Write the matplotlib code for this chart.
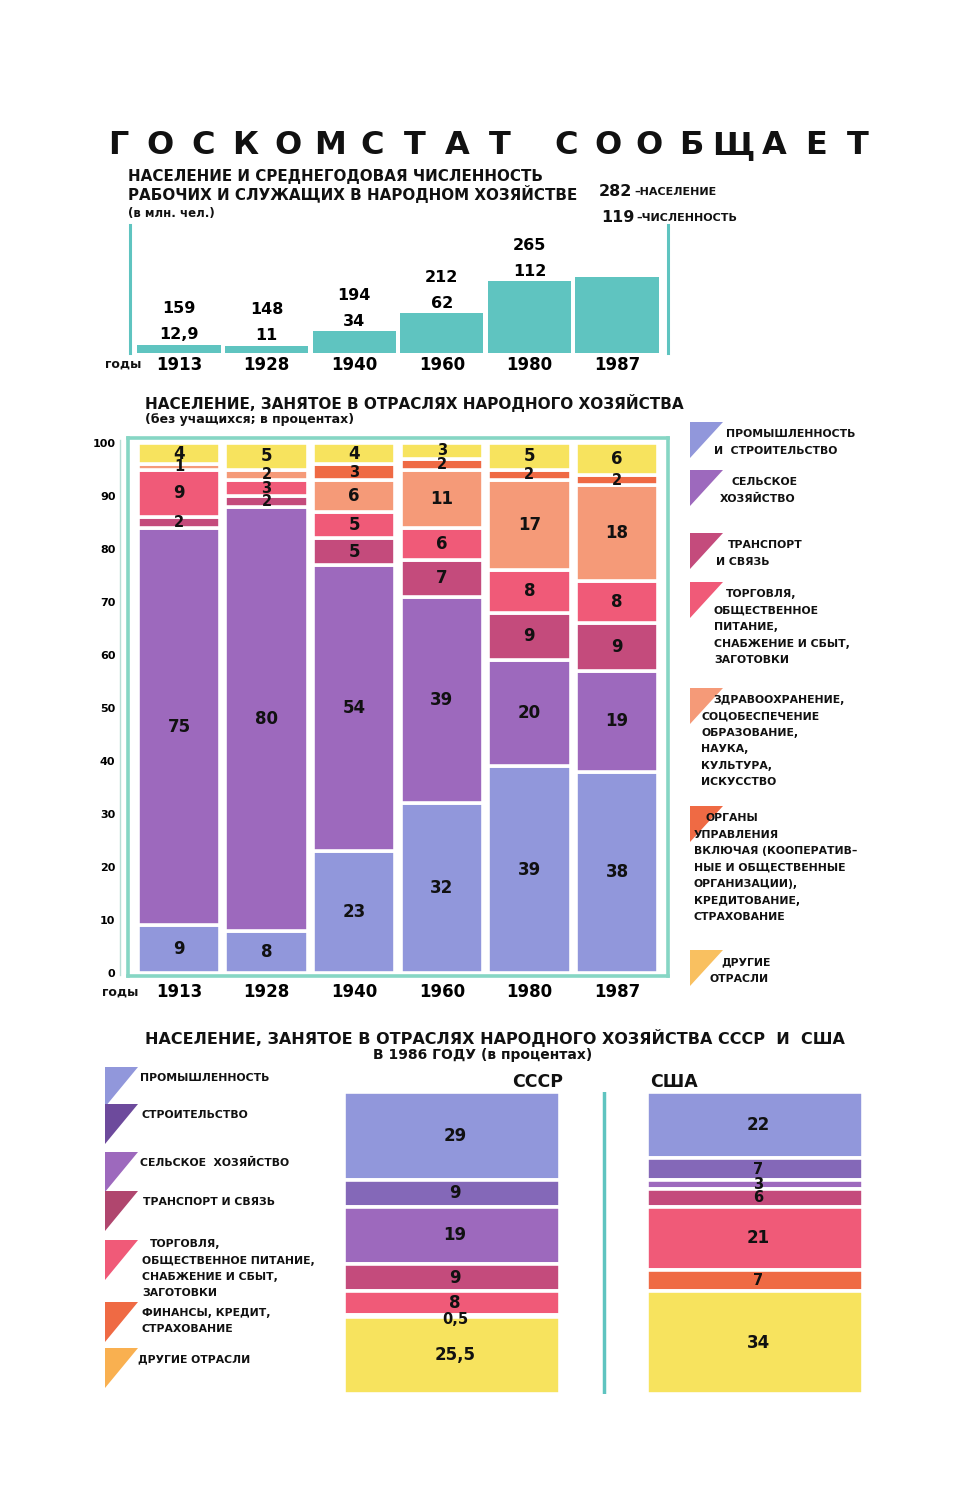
import matplotlib
matplotlib.use("Agg")
import matplotlib.pyplot as plt
from matplotlib.patches import Polygon

plt.rcParams['font.family'] = ['DejaVu Sans']
plt.rcParams['font.weight'] = 'bold'

# ---------------- data ----------------
years = ['1913', '1928', '1940', '1960', '1980', '1987']
population = [159, 148, 194, 212, 265, 282]
employed = [12.9, 11, 34, 62, 112, 119]

sector_names = [
    'ПРОМЫШЛЕННОСТЬ\nИ  СТРОИТЕЛЬСТВО',
    'СЕЛЬСКОЕ\nХОЗЯЙСТВО',
    'ТРАНСПОРТ\nИ СВЯЗЬ',
    'ТОРГОВЛЯ,\nОБЩЕСТВЕННОЕ\nПИТАНИЕ,\nСНАБЖЕНИЕ И СБЫТ,\nЗАГОТОВКИ',
    'ЗДРАВООХРАНЕНИЕ,\nСОЦОБЕСПЕЧЕНИЕ\nОБРАЗОВАНИЕ,\nНАУКА,\nКУЛЬТУРА,\nИСКУССТВО',
    'ОРГАНЫ\nУПРАВЛЕНИЯ\nВКЛЮЧАЯ (КООПЕРАТИВ–\nНЫЕ И ОБЩЕСТВЕННЫЕ\nОРГАНИЗАЦИИ),\nКРЕДИТОВАНИЕ,\nСТРАХОВАНИЕ',
    'ДРУГИЕ\nОТРАСЛИ',
]
industry_pct = [9, 8, 23, 32, 39, 38]
agriculture_pct = [75, 80, 54, 39, 20, 19]
transport_pct = [2, 2, 5, 7, 9, 9]
trade_pct = [9, 3, 5, 6, 8, 8]
health_pct = [1, 2, 6, 11, 17, 18]
government_pct = [0, 0, 3, 2, 2, 2]
other_pct = [4, 5, 4, 3, 5, 6]

countries = ['СССР', 'США']
branch_names = [
    'ПРОМЫШЛЕННОСТЬ',
    'СТРОИТЕЛЬСТВО',
    'СЕЛЬСКОЕ  ХОЗЯЙСТВО',
    'ТРАНСПОРТ И СВЯЗЬ',
    'ТОРГОВЛЯ,\nОБЩЕСТВЕННОЕ ПИТАНИЕ,\nСНАБЖЕНИЕ И СБЫТ,\nЗАГОТОВКИ',
    'ФИНАНСЫ, КРЕДИТ,\nСТРАХОВАНИЕ',
    'ДРУГИЕ ОТРАСЛИ',
]
ussr_1986 = [29, 9, 19, 9, 8, 0.5, 25.5]
usa_1986 = [22, 7, 3, 6, 21, 7, 34]

# ---------------- styles ----------------
C_IND = '#9197db'
C_CON = '#8468b8'
C_AGR = '#9d69bd'
C_TRA = '#c44b7c'
C_TRD = '#f05a78'
C_HEA = '#f59a78'
C_GOV = '#ef6a44'
C_OTH = '#f7e35e'
TEAL = '#5fc4c0'
FRAME = '#86d6c4'

mid_colors = [C_IND, C_AGR, C_TRA, C_TRD, C_HEA, C_GOV, C_OTH]
mid_legend_colors = [C_IND, C_AGR, C_TRA, C_TRD, C_HEA, C_GOV, '#f9c060']
bot_colors = [C_IND, C_CON, C_AGR, C_TRA, C_TRD, C_GOV, C_OTH]
bot_legend_colors = [C_IND, '#6d4a9c', C_AGR, '#b0466e', C_TRD, C_GOV, '#f9b050']

W, H = 960, 1500
fig = plt.figure(figsize=(W / 100, H / 100), dpi=100)
fig.patch.set_facecolor('white')


def px_axes(x0, y0, x1, y1):
    return fig.add_axes([x0 / W, 1 - y1 / H, (x1 - x0) / W, (y1 - y0) / H])


def ftext(x, y, s, size, ha='left', va='center', **kw):
    return fig.text(x / W, 1 - y / H, s, fontsize=size, ha=ha, va=va,
                    fontweight='bold', color='#111111', **kw)


def triangle(x, y, w, h, color):
    pts = [(x / W, 1 - y / H), ((x + w) / W, 1 - y / H), (x / W, 1 - (y + h) / H)]
    fig.patches.append(Polygon(pts, closed=True, transform=fig.transFigure,
                               facecolor=color, edgecolor='none'))


def fmt(v):
    return (('%g' % v).replace('.', ','))


# ---------------- main title ----------------
word1 = 'ГОСКОМСТАТ'
word2 = 'СООБЩАЕТ'
for i, ch in enumerate(word1):
    ftext(118 + i * 42.4, 146, ch, 23, ha='center')
for i, ch in enumerate(word2):
    ftext(566 + i * 41.7, 146, ch, 23, ha='center')

# ---------------- top chart ----------------
ftext(128, 176, 'НАСЕЛЕНИЕ И СРЕДНЕГОДОВАЯ ЧИСЛЕННОСТЬ', 10.9)
ftext(128, 194, 'РАБОЧИХ И СЛУЖАЩИХ В НАРОДНОМ ХОЗЯЙСТВЕ', 10.9)
ftext(128, 213, '(в млн. чел.)', 8.5)

step = 87.6
ax1 = px_axes(130, 225, 668, 353)
x = list(range(len(years)))
ax1.bar(x, employed, width=0.95, color=TEAL, edgecolor='none')
ax1.set_xlim(-(179 - 130) / step, -(179 - 130) / step + 538 / step)
ax1.set_ylim(0, 128 / 0.64)
for s in ['top', 'bottom']:
    ax1.spines[s].set_visible(False)
for s in ['left', 'right']:
    ax1.spines[s].set_color(TEAL)
    ax1.spines[s].set_linewidth(2.2)
ax1.set_yticks([])
ax1.set_xticks(x)
ax1.set_xticklabels(years, fontsize=12, fontweight='bold')
ax1.tick_params(axis='x', length=0, pad=2)
ax1.patch.set_alpha(0)
for i in range(len(years) - 1):
    ax1.annotate(fmt(employed[i]), (i, employed[i]), xytext=(0, 10),
                 textcoords='offset pixels', ha='center', va='center',
                 fontsize=11.5, fontweight='bold')
    ax1.annotate(fmt(population[i]), (i, employed[i]), xytext=(0, 36),
                 textcoords='offset pixels', ha='center', va='center',
                 fontsize=11.5, fontweight='bold')
# key for the last year (upper right, as in the original)
ftext(599, 192, fmt(population[-1]), 11.5)
ftext(634, 192, '–НАСЕЛЕНИЕ', 8)
ftext(601, 218, fmt(employed[-1]), 11.5)
ftext(636, 218, '–ЧИСЛЕННОСТЬ', 8)
ftext(105, 364, 'годы', 9)

# ---------------- middle chart ----------------
ftext(145, 403, 'НАСЕЛЕНИЕ, ЗАНЯТОЕ В ОТРАСЛЯХ НАРОДНОГО ХОЗЯЙСТВА', 11)
ftext(145, 419, '(без учащихся; в процентах)', 9)

series = [industry_pct, agriculture_pct, transport_pct, trade_pct,
          health_pct, government_pct, other_pct]
ax2 = px_axes(128, 437.7, 668, 976.2)
bottoms = [0.0] * len(years)
for vals, col in zip(series, mid_colors):
    for j, v in enumerate(vals):
        if v <= 0:
            continue
        ax2.bar(j, v, bottom=bottoms[j], width=0.94, color=col,
                edgecolor='white', linewidth=2.6)
        ax2.text(j, bottoms[j] + v / 2, fmt(v), ha='center', va='center',
                 fontsize=12 if v >= 4 else 10.5, fontweight='bold',
                 color='#111111')
        bottoms[j] += v
ax2.set_xlim(-(179 - 128) / step, -(179 - 128) / step + 540 / step)
ax2.set_ylim(-0.6, 101)
for s in ax2.spines.values():
    s.set_color(FRAME)
    s.set_linewidth(2.6)
ax2.set_yticks(range(0, 101, 10))
ax2.set_yticklabels([str(v) for v in range(0, 101, 10)], fontsize=8,
                    fontweight='bold')
ax2.tick_params(axis='y', length=0, pad=9)
ax2.set_xticks(range(len(years)))
ax2.set_xticklabels(years, fontsize=12, fontweight='bold')
ax2.tick_params(axis='x', length=0, pad=5)
ftext(102, 992, 'годы', 9)
fig.add_artist(plt.Line2D([120 / W, 120 / W], [1 - 440 / H, 1 - 975 / H],
                          transform=fig.transFigure, color='#b9ddd6', lw=1))

# middle legend
mid_leg_tops = [422, 470, 533, 582, 688, 806, 950]
mid_leg_text_x = [714, 720, 716, 714, 701, 694, 709]
for name, col, ty, tx in zip(sector_names, mid_legend_colors, mid_leg_tops,
                             mid_leg_text_x):
    triangle(690, ty, 33, 36, col)
    lines = name.split('\n')
    for k, ln in enumerate(lines):
        xx = tx + (12 if k == 0 else 0)
        ftext(xx, ty + 12 + k * 16.5, ln, 7.8)

# ---------------- bottom chart ----------------
ftext(495, 1038, 'НАСЕЛЕНИЕ, ЗАНЯТОЕ В ОТРАСЛЯХ НАРОДНОГО ХОЗЯЙСТВА СССР  И  США',
      11.5, ha='center')
ftext(483, 1055, 'В 1986 ГОДУ (в процентах)', 10, ha='center')

ax3 = px_axes(344, 1092, 862, 1394)
half = 216 / 303 / 2
for j, vals in enumerate([ussr_1986, usa_1986]):
    top = 0.0
    for v, col in zip(vals, bot_colors):
        ax3.bar(j, v, bottom=top, width=2 * half, color=col,
                edgecolor='white', linewidth=2.6)
        yl = top + v / 2 + (1.2 if v < 1 else 0)
        ax3.text(j + 0.01, yl, fmt(v), ha='center', va='center',
                 fontsize=12 if v >= 8 else 10.5, fontweight='bold',
                 color='#111111')
        top += v
ax3.set_xlim(-half, -half + 518 / 303)
ax3.set_ylim(100, 0)
ax3.axvline(0.5, color=TEAL, lw=2.5)
ax3.axis('off')
ftext(538, 1082, countries[0], 12.5, ha='center')
ftext(650, 1082, countries[1], 12.5, ha='left')

bot_leg_tops = [1067, 1104, 1152, 1191, 1240, 1302, 1348]
bot_leg_text_x = [140, 141, 140, 143, 142, 142, 138]
for name, col, ty, tx in zip(branch_names, bot_legend_colors, bot_leg_tops,
                             bot_leg_text_x):
    triangle(105, ty, 33, 40, col)
    lines = name.split('\n')
    for k, ln in enumerate(lines):
        xx = tx + (8 if (k == 0 and len(lines) > 2) else 0)
        ftext(xx, ty + (4 if len(lines) > 2 else 11) + k * 16.5, ln, 7.8)

fig.savefig('out.png', dpi=100, facecolor='white')
